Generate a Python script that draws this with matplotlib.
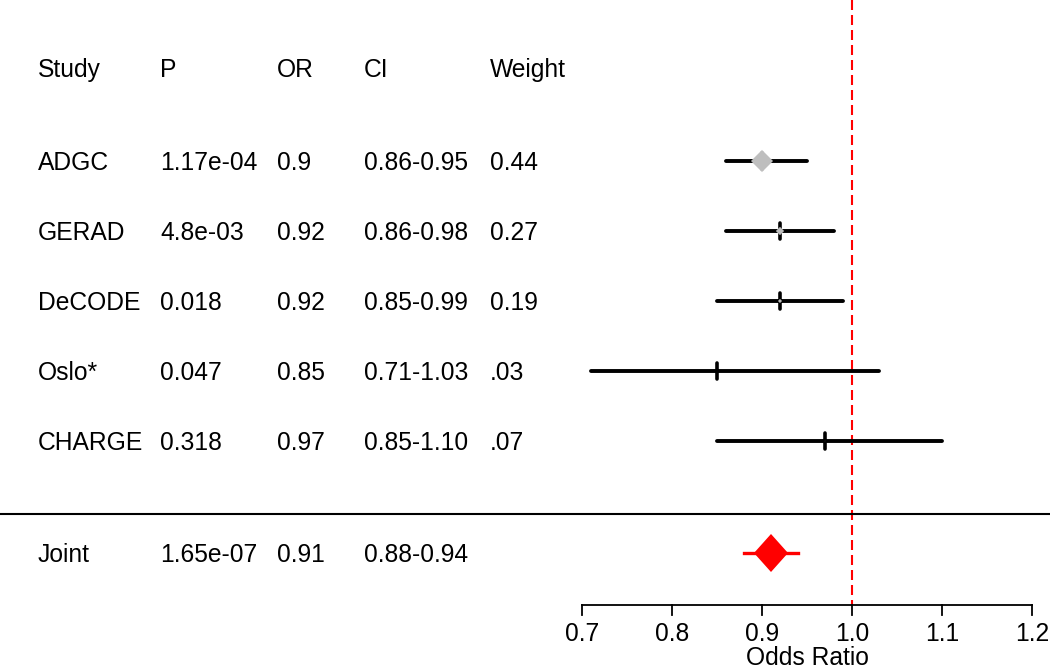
import matplotlib
matplotlib.use("Agg")
import matplotlib.pyplot as plt
import matplotlib.transforms as mtransforms

plt.rcParams['font.family'] = ['Liberation Sans', 'DejaVu Sans']

# ---- data ----
studies = ["ADGC", "GERAD", "DeCODE", "Oslo*", "CHARGE"]
p_text = ["1.17e-04", "4.8e-03", "0.018", "0.047", "0.318"]
or_vals = [0.90, 0.92, 0.92, 0.85, 0.97]
ci_low = [0.86, 0.86, 0.85, 0.71, 0.85]
ci_high = [0.95, 0.98, 0.99, 1.03, 1.10]
ci_text = ["0.86-0.95", "0.86-0.98", "0.85-0.99", "0.71-1.03", "0.85-1.10"]
weights = [0.44, 0.27, 0.19, 0.03, 0.07]
weight_text = ["0.44", "0.27", "0.19", ".03", ".07"]

joint_label = "Joint"
joint_p = "1.65e-07"
joint_or = 0.91
joint_low = 0.88
joint_high = 0.94
joint_ci_text = "0.88-0.94"

headers = ["Study", "P", "OR", "CI", "Weight"]
x_ticks = [0.7, 0.8, 0.9, 1.0, 1.1, 1.2]
null_value = 1.0

# ---- layout ----
W, H = 1050, 670
fig = plt.figure(figsize=(W / 100, H / 100), dpi=100)
ax = fig.add_axes([0, 0, 1, 1])

# x: 0.7 at px 582, 1.2 at px 1032
px_per_unit = 900.0
x0 = 0.7 - 582 / px_per_unit
x1 = x0 + W / px_per_unit
ax.set_xlim(x0, x1)
ax.set_ylim(H, 0)  # y in pixel rows (layout only)
ax.axis('off')

dx = 1 / px_per_unit  # data units per pixel in x

row_y = [161 + 70 * i for i in range(len(studies))]
header_y = 68
sep_y = 514
joint_y = 553
axis_y = 605

col_x = [38, 160, 277, 364, 490]
fs = 17.7
cap_half = 0.716 * fs * 100 / 72 / 2  # half cap height in px

tr = mtransforms.blended_transform_factory(fig.transFigure, ax.transData)


def row_text(y, vals):
    for cx, v in zip(col_x, vals):
        ax.text(cx / W, y + cap_half, v, transform=tr, fontsize=fs,
                va='baseline', ha='left')


row_text(header_y, headers)

for i, y in enumerate(row_y):
    row_text(y, [studies[i], p_text[i], f"{or_vals[i]:g}", ci_text[i], weight_text[i]])
    # CI line
    ax.plot([ci_low[i], ci_high[i]], [y, y], color='black', lw=2.8,
            solid_capstyle='round', zorder=3)
    # point tick
    ax.plot([or_vals[i], or_vals[i]], [y - 8, y + 8], color='black', lw=2.6,
            solid_capstyle='round', zorder=4)
    # gray diamond sized by weight
    hw = 57 * weights[i] ** 2
    ax.fill([or_vals[i] - hw * dx, or_vals[i], or_vals[i] + hw * dx, or_vals[i]],
            [y, y - hw, y, y + hw], color='#BEBEBE', lw=0, zorder=5)

# separator
ax.plot([x0, x1], [sep_y, sep_y], color='black', lw=1.5, zorder=2)

# joint row
row_text(joint_y, [joint_label, joint_p, f"{joint_or:g}", joint_ci_text])
ax.plot([joint_low, joint_high], [joint_y, joint_y], color='red', lw=2.4, zorder=3)
jhw, jhh = 17, 19
ax.fill([joint_or - jhw * dx, joint_or, joint_or + jhw * dx, joint_or],
        [joint_y, joint_y - jhh, joint_y, joint_y + jhh], color='red', lw=0, zorder=5)

# null line
ax.plot([null_value, null_value], [0, axis_y], color='red', lw=1.5,
        dashes=(4.8, 2.4), zorder=1)

# x axis
ax.plot([x_ticks[0], x_ticks[-1]], [axis_y, axis_y], color='black', lw=1.3)
for t in x_ticks:
    ax.plot([t, t], [axis_y, axis_y + 10], color='black', lw=1.3)
    ax.text(t, 632 + cap_half, f"{t:.1f}", fontsize=fs, ha='center', va='baseline')
ax.text((x_ticks[0] + x_ticks[-1]) / 2, 665, "Odds Ratio", fontsize=fs,
        ha='center', va='baseline')

fig.savefig("out.png", dpi=100)
